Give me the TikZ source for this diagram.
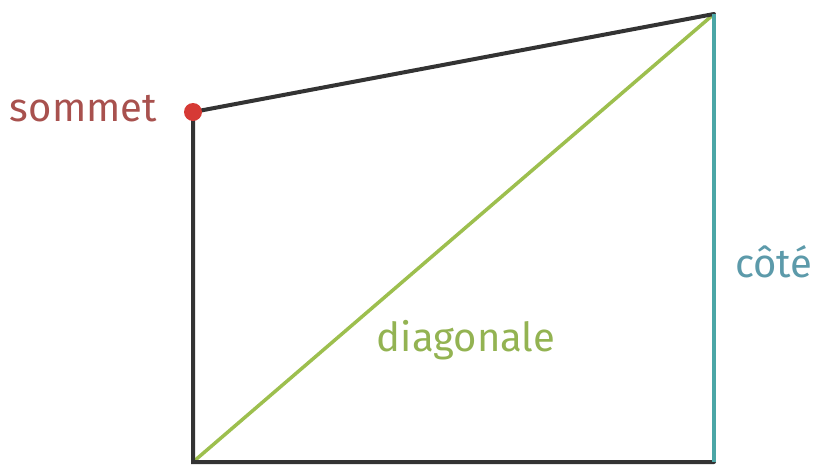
\documentclass[tikz,border=0pt]{standalone}
\usepackage{fontspec}
\setmainfont{Fira Sans}
\definecolor{edgedark}{HTML}{333333}
\definecolor{vertexred}{HTML}{D63A35}
\definecolor{sommettxt}{HTML}{A8514E}
\definecolor{diaggreen}{HTML}{9DBF4E}
\definecolor{diagtxt}{HTML}{93B352}
\definecolor{sideteal}{HTML}{4BA6A6}
\definecolor{sidetxt}{HTML}{5C9AAA}
\tikzset{
    edge/.style={line width=4pt, draw=edgedark, line cap=round},
    lbl/.style={font=\fontsize{40}{44}\selectfont, inner sep=0pt}
}
\begin{document}
\begin{tikzpicture}[x=1pt, y=-1pt]
            \useasboundingbox (0,0) rectangle (814,464);

            % corners of the quadrilateral
            \coordinate (bl) at (193,462);
            \coordinate (tl) at (193,112);
            \coordinate (tr) at (714,14);
            \coordinate (br) at (714,462);

            % diagonal
            \draw[line width=3.5pt, draw=diaggreen] (bl) -- (tr);

            % sides
            \draw[edge] (br) -- (bl) -- (tl) -- (tr);
            \draw[line width=3.5pt, draw=sideteal] (tr) -- (br);

            % vertex
            \fill[vertexred] (tl) circle (9);

            % labels
            \node[lbl, text=sommettxt, anchor=east] (sommet) at (157,109) {sommet};
            \node[lbl, text=sidetxt, anchor=west] (cote) at (735,262) {côté};
            \node[lbl, text=diagtxt] (diag) at (466,340) {diagonale};
        \end{tikzpicture}
\end{document}
